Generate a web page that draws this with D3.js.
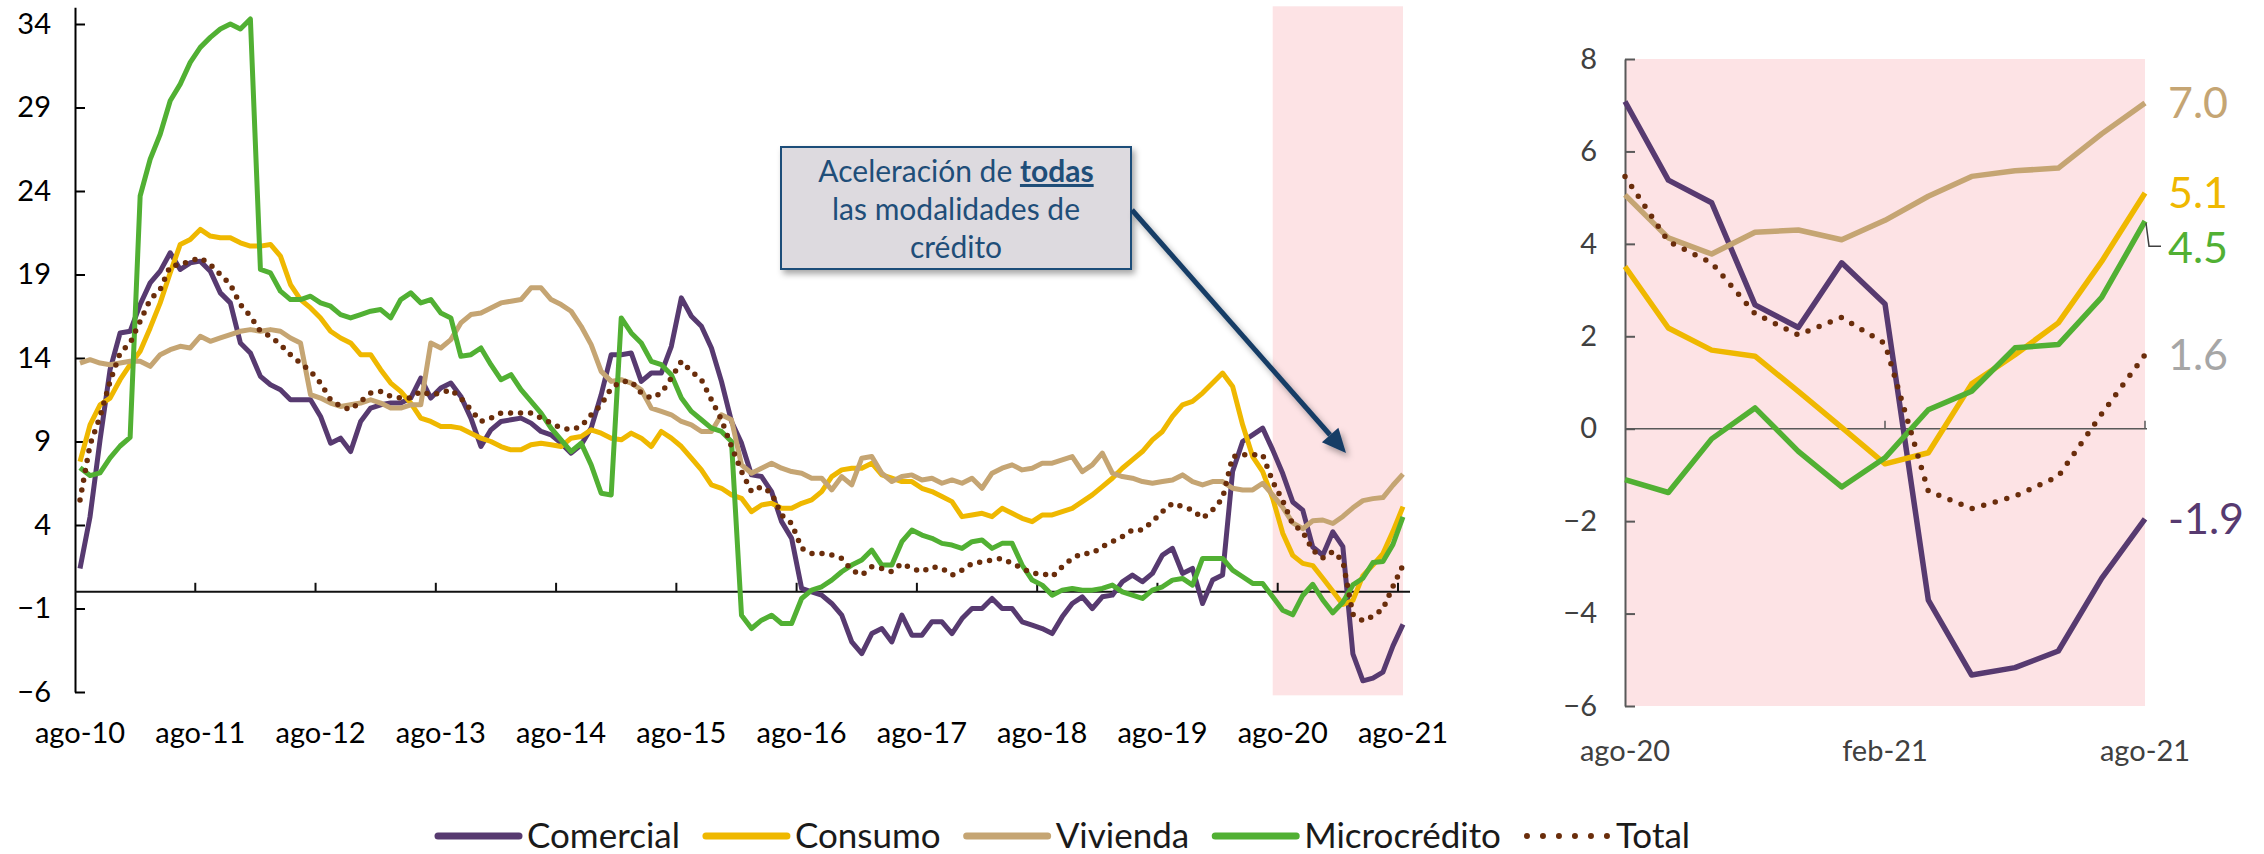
<!DOCTYPE html>
<html>
<head>
<meta charset="utf-8">
<script src="https://cdn.jsdelivr.net/npm/d3@7"></script>
<style>
  html, body { margin: 0; padding: 0; background: #fff; }
  svg { display: block; font-family: Lato, "Open Sans", sans-serif; }
</style>
</head>
<body>
<svg id="chart" width="2264" height="854"></svg>
<script>
// monthly growth (%), ago-10 .. ago-21
const monthNames = ['ene','feb','mar','abr','may','jun','jul','ago','sep','oct','nov','dic'];

const comercial = [
  1.4, 4.5, 9.1, 13.3, 15.5, 15.6, 17.2, 18.5, 19.2, 20.3, 19.3, 19.7,
  19.8, 19.2, 17.9, 17.3, 14.9, 14.3, 12.9, 12.4, 12.1, 11.5, 11.5, 11.5,
  10.5, 8.9, 9.2, 8.4, 10.2, 11.0, 11.2, 11.3, 11.3, 11.6, 12.8, 11.6,
  12.2, 12.5, 11.7, 10.4, 8.7, 9.7, 10.2, 10.3, 10.4, 10.1, 9.6, 9.4,
  8.9, 8.3, 8.8, 9.8, 11.8, 14.2, 14.2, 14.3, 12.6, 13.1, 13.1, 14.7,
  17.6, 16.5, 15.9, 14.6, 12.6, 10.2, 8.9, 7.0, 6.9, 6.0, 4.2, 3.2,
  0.2, 0.0, -0.2, -0.7, -1.4, -3.0, -3.7, -2.5, -2.2, -3.0, -1.4, -2.6,
  -2.6, -1.8, -1.8, -2.5, -1.6, -1.0, -1.0, -0.4, -1.0, -1.0, -1.8, -2.0,
  -2.2, -2.5, -1.5, -0.7, -0.3, -1.0, -0.3, -0.2, 0.6, 1.0, 0.6, 1.1,
  2.2, 2.6, 1.1, 1.4, -0.7, 0.7, 1.0, 7.2, 9.0, 9.4, 9.8, 8.5,
  7.08, 5.38, 4.89, 2.68, 2.19, 3.59, 2.70, -3.71, -5.33, -5.17, -4.81, -3.24,
  -1.95
];

const consumo = [
  7.8, 10.0, 11.2, 11.6, 12.7, 13.6, 14.4, 15.8, 17.3, 19.1, 20.8, 21.1,
  21.7, 21.3, 21.2, 21.2, 20.9, 20.7, 20.7, 20.8, 20.1, 18.4, 17.5, 17.0,
  16.4, 15.6, 15.2, 14.9, 14.2, 14.2, 13.3, 12.5, 12.0, 11.3, 10.4, 10.2,
  9.9, 9.9, 9.8, 9.5, 9.2, 9.0, 8.7, 8.5, 8.5, 8.8, 8.9, 8.8,
  8.7, 9.2, 9.3, 9.7, 9.5, 9.2, 9.1, 9.5, 9.2, 8.7, 9.6, 9.2,
  8.7, 8.0, 7.3, 6.4, 6.2, 5.8, 5.6, 4.8, 5.2, 5.3, 5.0, 5.0,
  5.3, 5.5, 6.0, 6.9, 7.3, 7.4, 7.4, 7.7, 7.0, 6.8, 6.6, 6.6,
  6.2, 6.0, 5.7, 5.4, 4.5, 4.6, 4.7, 4.5, 5.0, 4.7, 4.4, 4.2,
  4.6, 4.6, 4.8, 5.0, 5.4, 5.8, 6.3, 6.8, 7.4, 7.9, 8.4, 9.1,
  9.6, 10.5, 11.2, 11.4, 11.9, 12.5, 13.1, 12.3, 10.0, 8.1, 7.2, 5.6,
  3.51, 2.18, 1.70, 1.57, 0.81, 0.03, -0.76, -0.52, 0.97, 1.60, 2.29, 3.62,
  5.10
];

const vivienda = [
  13.7, 13.9, 13.7, 13.6, 13.7, 13.8, 13.8, 13.5, 14.2, 14.5, 14.7, 14.6,
  15.3, 15.0, 15.2, 15.4, 15.6, 15.7, 15.6, 15.7, 15.6, 15.2, 14.9, 11.8,
  11.6, 11.3, 11.1, 11.2, 11.3, 11.5, 11.3, 11.0, 11.0, 11.2, 11.2, 14.9,
  14.6, 15.1, 16.1, 16.6, 16.7, 17.0, 17.3, 17.4, 17.5, 18.2, 18.2, 17.5,
  17.2, 16.8, 15.9, 14.8, 13.2, 12.6, 12.7, 12.5, 12.1, 11.0, 10.8, 10.6,
  10.2, 10.0, 9.6, 9.6, 10.6, 10.3, 7.6, 7.1, 7.4, 7.7, 7.4, 7.2,
  7.1, 6.8, 6.8, 6.1, 6.9, 6.4, 8.0, 8.1, 7.1, 6.6, 6.9, 7.0,
  6.7, 6.8, 6.5, 6.7, 6.5, 6.8, 6.2, 7.1, 7.4, 7.6, 7.3, 7.4,
  7.7, 7.7, 7.9, 8.1, 7.2, 7.6, 8.3, 7.1, 6.9, 6.8, 6.6, 6.5,
  6.6, 6.7, 7.0, 6.6, 6.4, 6.6, 6.6, 6.2, 6.1, 6.1, 6.5, 5.8,
  5.06, 4.13, 3.78, 4.25, 4.30, 4.09, 4.51, 5.03, 5.46, 5.58, 5.64, 6.38,
  7.05
];

const microcredito = [
  7.43, 6.96, 7.12, 8.02, 8.73, 9.25, 23.7, 25.9, 27.4, 29.4, 30.4, 31.7,
  32.6, 33.2, 33.7, 34.0, 33.7, 34.3, 19.3, 19.1, 18.0, 17.5, 17.5, 17.7,
  17.3, 17.1, 16.6, 16.4, 16.6, 16.8, 16.9, 16.4, 17.5, 17.9, 17.3, 17.5,
  16.7, 16.4, 14.1, 14.2, 14.6, 13.6, 12.7, 13.0, 12.1, 11.4, 10.7, 9.8,
  9.1, 8.4, 8.9, 7.6, 5.9, 5.8, 16.4, 15.5, 14.9, 13.8, 13.6, 13.0,
  11.6, 10.8, 10.3, 9.8, 9.6, 9.0, -1.4, -2.2, -1.7, -1.4, -1.9, -1.9,
  -0.4, 0.1, 0.3, 0.7, 1.2, 1.6, 1.9, 2.5, 1.6, 1.6, 3.0, 3.7,
  3.4, 3.2, 2.9, 2.8, 2.6, 3.0, 3.1, 2.6, 2.9, 2.9, 1.6, 0.7,
  0.4, -0.2, 0.1, 0.2, 0.1, 0.1, 0.2, 0.4, 0.0, -0.2, -0.4, 0.1,
  0.3, 0.7, 0.8, 0.4, 2.0, 2.0, 2.0, 1.3, 0.9, 0.5, 0.5, -0.3,
  -1.10, -1.38, -0.22, 0.45, -0.49, -1.26, -0.63, 0.41, 0.81, 1.75, 1.82, 2.84,
  4.49
];

const total = [
  5.5, 8.8, 10.5, 12.6, 14.3, 14.9, 16.2, 17.5, 18.1, 19.5, 19.6, 19.8,
  20.0, 19.6, 19.0, 18.4, 17.2, 16.5, 15.6, 15.3, 14.8, 14.2, 13.7, 13.2,
  12.5, 11.5, 11.1, 10.9, 11.4, 11.9, 12.0, 11.7, 11.6, 11.6, 12.0, 11.8,
  11.9, 12.1, 11.6, 10.9, 10.2, 10.4, 10.7, 10.7, 10.7, 10.7, 10.4, 10.1,
  9.8, 9.7, 9.9, 10.6, 11.2, 12.2, 12.6, 12.6, 11.9, 11.6, 11.9, 12.8,
  13.8, 13.2, 12.7, 11.5, 10.3, 8.7, 7.2, 6.0, 6.3, 5.9, 4.6, 4.1,
  2.6, 2.3, 2.3, 2.2, 2.0, 1.3, 1.0, 1.5, 1.4, 1.2, 1.7, 1.4,
  1.2, 1.5, 1.4, 1.0, 1.3, 1.7, 1.8, 1.9, 2.0, 1.7, 1.4, 1.1,
  1.1, 0.9, 1.5, 2.0, 2.3, 2.3, 2.7, 3.0, 3.3, 3.7, 3.7, 4.2,
  4.8, 5.3, 5.1, 4.9, 4.4, 4.9, 5.6, 8.1, 8.2, 8.2, 8.2, 6.6,
  5.46, 4.05, 3.59, 2.49, 2.03, 2.41, 1.84, -1.35, -1.73, -1.46, -1.03, 0.32,
  1.6
];

const seriesNames = ['Comercial', 'Consumo', 'Vivienda', 'Microcrédito', 'Total'];
const endLabels = ['-1.9', '5.1', '7.0', '4.5', '1.6'];
const leftTicks = [-6, -1, 4, 9, 14, 19, 24, 29, 34];
const rightTicks = [-6, -4, -2, 0, 2, 4, 6, 8];
const rightXLabels = [120, 126, 132];

const colors = ['#573a70', '#efb800', '#c5a573', '#51b033', '#6a2d0b'];
const labelColors = ['#573a70', '#efb800', '#c5a573', '#51b033', '#a6a6a6'];
const allSeries = [comercial, consumo, vivienda, microcredito, total];

const months = d3.timeMonth.range(new Date(2010, 7, 1), new Date(2021, 8, 1));
const monthLabel = d => `${monthNames[d.getMonth()]}-${String(d.getFullYear()).slice(2)}`;

const svg = d3.select('#chart');
const defs = svg.append('defs');
defs.append('filter').attr('id', 'shadow')
    .attr('x', '-10%').attr('y', '-10%').attr('width', '130%').attr('height', '140%')
  .append('feDropShadow')
    .attr('dx', 3).attr('dy', 4).attr('stdDeviation', 3)
    .attr('flood-color', '#000').attr('flood-opacity', 0.35);

// ---------- left chart ----------
const xL = d3.scalePoint().domain(d3.range(months.length)).range([75, 1408]).padding(0.5);
const yL = d3.scaleLinear().domain([-6, 35]).range([692, 7.3]);
const stepL = xL.step();

const left = svg.append('g');

left.append('rect')
    .attr('x', xL(119))
    .attr('y', yL(35) - 1)
    .attr('width', xL(132) - xL(119))
    .attr('height', yL(-6.2) - yL(35) + 1)
    .attr('fill', '#fde3e5');

const yAxisL = left.append('g')
    .attr('transform', 'translate(75,0)')
    .call(d3.axisLeft(yL).tickValues(leftTicks).tickSize(-10).tickSizeOuter(0).tickPadding(24));
yAxisL.select('.domain').attr('stroke', '#000').attr('stroke-width', 2);
yAxisL.selectAll('.tick line').attr('stroke', '#000').attr('stroke-width', 2);
yAxisL.selectAll('.tick text')
    .attr('font-size', 29).attr('font-family', 'Lato, sans-serif').attr('fill', '#000');

left.append('line')
    .attr('x1', 75).attr('x2', 1410)
    .attr('y1', yL(0)).attr('y2', yL(0))
    .attr('stroke', '#111').attr('stroke-width', 2);

const augIdx = d3.range(0, months.length, 12);
left.selectAll('.xtick')
    .data(augIdx.filter(i => i > 0))
    .join('line')
    .attr('x1', i => xL(i) - stepL / 2).attr('x2', i => xL(i) - stepL / 2)
    .attr('y1', yL(0)).attr('y2', yL(0) - 9)
    .attr('stroke', '#111').attr('stroke-width', 2);

left.selectAll('.xlab')
    .data(augIdx)
    .join('text')
    .attr('x', i => xL(i))
    .attr('y', 743)
    .attr('text-anchor', 'middle')
    .attr('font-size', 29)
    .attr('fill', '#000')
    .text(i => monthLabel(months[i]));

const lineL = d3.line().x((d, i) => xL(i)).y(d => yL(d));

allSeries.forEach((s, k) => {
  const p = left.append('path')
      .datum(s)
      .attr('d', lineL)
      .attr('fill', 'none')
      .attr('stroke', colors[k])
      .attr('stroke-width', 5)
      .attr('stroke-linejoin', 'round');
  if (k === 4) p.attr('stroke-dasharray', '0 10').attr('stroke-linecap', 'round').attr('stroke-width', 5.5);
});

// annotation
const note = svg.append('g');
note.append('rect')
    .attr('x', 781).attr('y', 147)
    .attr('width', 350).attr('height', 122)
    .attr('fill', '#dddadf')
    .attr('stroke', '#1f4e79')
    .attr('stroke-width', 2)
    .attr('filter', 'url(#shadow)');

const noteText = note.append('g')
    .attr('font-size', 30)
    .attr('fill', '#1f4e79')
    .attr('text-anchor', 'middle');
const l1 = noteText.append('text').attr('x', 956).attr('y', 182);
l1.append('tspan').text('Aceleración de ');
l1.append('tspan').attr('font-weight', 'bold').style('text-decoration', 'underline').text('todas');
noteText.append('text').attr('x', 956).attr('y', 220).text('las modalidades de');
noteText.append('text').attr('x', 956).attr('y', 258).text('crédito');

const ax0 = 1132, ay0 = 210, ax1 = 1346, ay1 = 453;
const ang = Math.atan2(ay1 - ay0, ax1 - ax0);
const headLen = 24, headW = 11;
const bx = ax1 - headLen * Math.cos(ang), by = ay1 - headLen * Math.sin(ang);
const arrow = note.append('g').attr('filter', 'url(#shadow)');
arrow.append('line')
    .attr('x1', ax0).attr('y1', ay0).attr('x2', bx).attr('y2', by)
    .attr('stroke', '#173d66').attr('stroke-width', 5);
arrow.append('path')
    .attr('d', `M${ax1},${ay1}L${bx + headW * Math.sin(ang)},${by - headW * Math.cos(ang)}L${bx - headW * Math.sin(ang)},${by + headW * Math.cos(ang)}Z`)
    .attr('fill', '#173d66');

// ---------- right chart ----------
const zoomIdx = d3.range(120, months.length);
const xR = d3.scalePoint().domain(zoomIdx).range([1625, 2145]);
const yR = d3.scaleLinear().domain([-6, 8]).range([706, 59]);

const right = svg.append('g');
right.append('rect')
    .attr('x', 1625).attr('y', yR(8))
    .attr('width', 2145 - 1625).attr('height', yR(-6) - yR(8))
    .attr('fill', '#fde3e5');

const yAxisR = right.append('g')
    .attr('transform', 'translate(1625,0)')
    .call(d3.axisLeft(yR).tickValues(rightTicks).tickSize(-10).tickSizeOuter(0).tickPadding(28));
yAxisR.select('.domain').attr('stroke', '#595959').attr('stroke-width', 2);
yAxisR.selectAll('.tick line').attr('stroke', '#595959').attr('stroke-width', 2);
yAxisR.selectAll('.tick text')
    .attr('font-size', 29).attr('font-family', 'Lato, sans-serif').attr('fill', '#404040');

right.append('line')
    .attr('x1', 1625).attr('x2', 2147)
    .attr('y1', yR(0)).attr('y2', yR(0))
    .attr('stroke', '#595959').attr('stroke-width', 1.5);
right.selectAll('.rtick')
    .data(rightXLabels.slice(1))
    .join('line')
    .attr('x1', i => xR(i)).attr('x2', i => xR(i))
    .attr('y1', yR(0)).attr('y2', yR(0) - 8)
    .attr('stroke', '#595959').attr('stroke-width', 1.5);

right.selectAll('.rlab')
    .data(rightXLabels)
    .join('text')
    .attr('x', i => xR(i))
    .attr('y', 761)
    .attr('text-anchor', 'middle')
    .attr('font-size', 29)
    .attr('fill', '#404040')
    .text(i => monthLabel(months[i]));

const lineR = d3.line().x(d => xR(d.i)).y(d => yR(d.v));
allSeries.forEach((s, k) => {
  const pts = zoomIdx.map(i => ({i, v: s[i]}));
  const p = right.append('path')
      .datum(pts)
      .attr('d', lineR)
      .attr('fill', 'none')
      .attr('stroke', colors[k])
      .attr('stroke-width', 5.5)
      .attr('stroke-linejoin', 'round');
  if (k === 4) p.attr('stroke-dasharray', '0 12').attr('stroke-linecap', 'round');
});

// end labels
allSeries.forEach((s, k) => {
  const last = s[s.length - 1];
  const off = k === 3 ? 27 : 0;
  if (k === 3) {
    right.append('path')
        .attr('d', `M${xR(132) + 1},${yR(last) + 2}L${xR(132) + 4},${yR(last) + off - 2}H${xR(132) + 16}`)
        .attr('fill', 'none').attr('stroke', '#404040').attr('stroke-width', 1.5);
  }
  right.append('text')
      .attr('x', 2168)
      .attr('y', yR(last) + off)
      .attr('dy', '0.35em')
      .attr('font-size', 43)
      .attr('fill', labelColors[k])
      .text(endLabels[k]);
});

// ---------- legend ----------
const legend = svg.append('g').attr('transform', 'translate(435,836)');
let lx = 0;
seriesNames.forEach((name, k) => {
  const ln = legend.append('line')
      .attr('x1', lx + 3).attr('x2', lx + 84)
      .attr('y1', 0).attr('y2', 0)
      .attr('stroke', colors[k])
      .attr('stroke-width', 7)
      .attr('stroke-linecap', 'round');
  if (k === 4) ln.attr('stroke-dasharray', '0 16').attr('stroke-width', 6);
  const t = legend.append('text')
      .attr('x', lx + 92)
      .attr('y', 12)
      .attr('font-size', 35)
      .attr('fill', '#1a1a1a')
      .text(name);
  lx += 92 + t.node().getComputedTextLength() + 23;
});
</script>
</body>
</html>
